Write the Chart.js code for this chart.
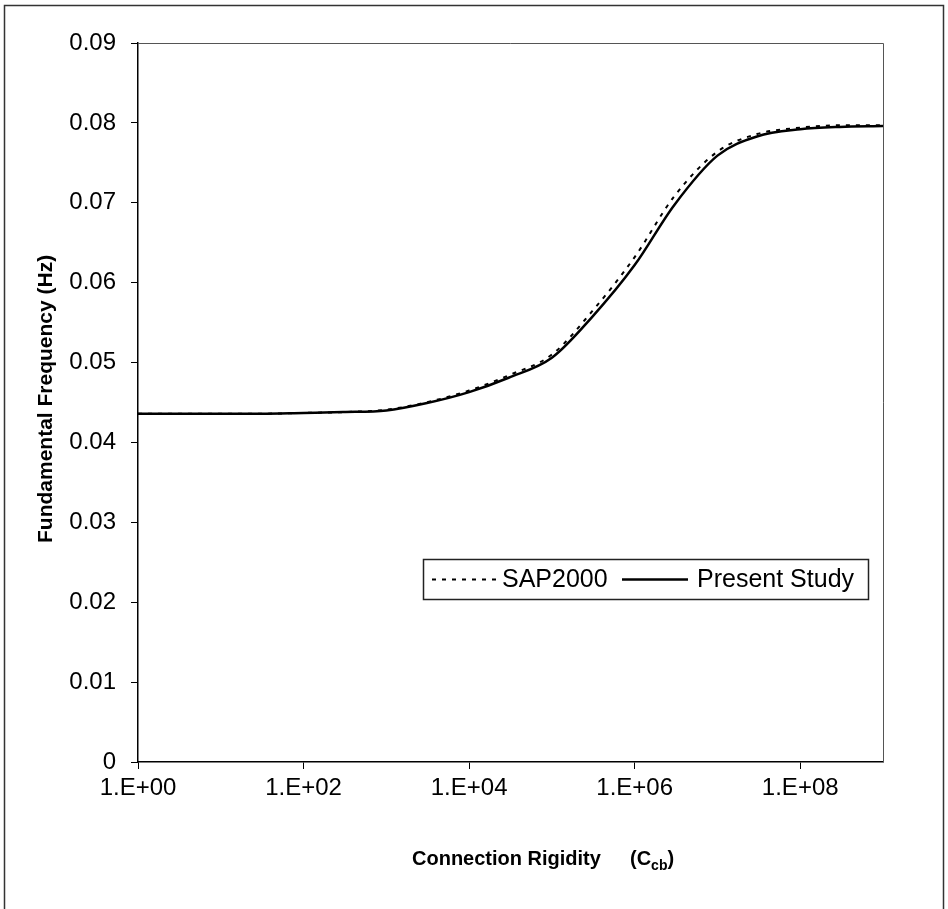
<!DOCTYPE html>
<html>
<head>
<meta charset="utf-8">
<script src="https://cdn.jsdelivr.net/npm/chart.js@4.4.1/dist/chart.umd.min.js"></script>
<style>
  html, body { margin: 0; padding: 0; background: #fff; }
  canvas { display: block; }
</style>
</head>
<body>
<canvas id="freqChart" width="948" height="909"></canvas>
<script>
// --- Data ---
const rigidity = [1, 3, 10, 30, 100, 300, 1e3, 3e3, 1e4, 3e4, 1e5, 3e5, 1e6, 3e6, 1e7, 3e7, 1e8, 3e8, 1e9];
const sap2000 = [0.0436, 0.0436, 0.0436, 0.0436, 0.0437, 0.0438, 0.0441, 0.0450, 0.0465, 0.0484, 0.0510, 0.0563, 0.0632, 0.0708, 0.0764, 0.0786, 0.0794, 0.0797, 0.0797];
const presentStudy = [0.0436, 0.0436, 0.0436, 0.0436, 0.0437, 0.0438, 0.0440, 0.0449, 0.0463, 0.0481, 0.0506, 0.0556, 0.0622, 0.0697, 0.0759, 0.0783, 0.0792, 0.0795, 0.0796];
const xTicks = [1, 1e2, 1e4, 1e6, 1e8];
const xTickLabels = ["1.E+00", "1.E+02", "1.E+04", "1.E+06", "1.E+08"];
const seriesNames = ["SAP2000", "Present Study"];

const FONT = "'Liberation Sans', Arial, sans-serif";

const toPoints = (xs, ys) => xs.map((x, i) => ({ x, y: ys[i] }));

// cadre, titres d'axes et légende dans le graphique
const decorations = {
  id: "decorations",
  beforeDraw(chart) {
    const ctx = chart.ctx;
    ctx.save();
    ctx.fillStyle = "#fff";
    ctx.fillRect(0, 0, chart.width, chart.height);
    ctx.restore();
  },
  afterDraw(chart) {
    const { ctx, chartArea: a } = chart;
    ctx.save();

    // outer frame
    ctx.strokeStyle = "#333";
    ctx.lineWidth = 1.5;
    ctx.strokeRect(4.5, 5.5, 939, 930);

    // plot area border (top / right)
    ctx.strokeStyle = "#555";
    ctx.lineWidth = 1;
    ctx.beginPath();
    ctx.moveTo(a.left, a.top + 0.5);
    ctx.lineTo(a.right + 0.5, a.top + 0.5);
    ctx.lineTo(a.right + 0.5, a.bottom);
    ctx.stroke();

    // y title
    ctx.fillStyle = "#000";
    ctx.font = `bold 21px ${FONT}`;
    ctx.save();
    ctx.translate(52, 543);
    ctx.rotate(-Math.PI / 2);
    ctx.textAlign = "left";
    ctx.textBaseline = "alphabetic";
    ctx.fillText("Fundamental Frequency (Hz)", 0, 0);
    ctx.restore();

    // x title with subscript
    ctx.textBaseline = "alphabetic";
    ctx.textAlign = "left";
    ctx.font = `bold 20px ${FONT}`;
    ctx.fillText("Connection Rigidity", 412, 865);
    let x = 630;
    ctx.fillText("(C", x, 865);
    x += ctx.measureText("(C").width;
    ctx.font = `bold 14px ${FONT}`;
    ctx.fillText("cb", x, 870);
    x += ctx.measureText("cb").width;
    ctx.font = `bold 20px ${FONT}`;
    ctx.fillText(")", x, 865);

    // legend
    const box = { x: 423.5, y: 559.5, w: 445, h: 40 };
    ctx.fillStyle = "#fff";
    ctx.fillRect(box.x, box.y, box.w, box.h);
    ctx.strokeStyle = "#222";
    ctx.lineWidth = 1.5;
    ctx.strokeRect(box.x, box.y, box.w, box.h);

    const midY = box.y + box.h / 2;
    const samples = [[432, 497, 502], [622, 688, 697]];
    chart.data.datasets.forEach((ds, i) => {
      const [x0, x1, tx] = samples[i];
      ctx.strokeStyle = ds.borderColor;
      ctx.lineWidth = ds.borderWidth;
      ctx.setLineDash(ds.borderDash || []);
      ctx.beginPath();
      ctx.moveTo(x0, midY);
      ctx.lineTo(x1, midY);
      ctx.stroke();
      ctx.setLineDash([]);
      ctx.fillStyle = "#000";
      ctx.font = `25px ${FONT}`;
      ctx.textBaseline = "middle";
      ctx.fillText(ds.label, tx, midY + 1);
    });

    ctx.restore();
  }
};

new Chart(document.getElementById("freqChart"), {
  type: "line",
  data: {
    datasets: [
      {
        label: seriesNames[0],
        data: toPoints(rigidity, sap2000),
        borderColor: "#000",
        borderWidth: 2,
        borderDash: [4, 6],
        pointRadius: 0,
        cubicInterpolationMode: "monotone",
        fill: false
      },
      {
        label: seriesNames[1],
        data: toPoints(rigidity, presentStudy),
        borderColor: "#000",
        borderWidth: 2.5,
        pointRadius: 0,
        cubicInterpolationMode: "monotone",
        fill: false
      }
    ]
  },
  options: {
    responsive: false,
    animation: false,
    layout: { padding: { top: 43, right: 65, left: 0, bottom: 0 } },
    plugins: {
      legend: { display: false },
      tooltip: { enabled: false }
    },
    scales: {
      x: {
        type: "logarithmic",
        min: 1,
        max: 1e9,
        afterBuildTicks: (scale) => {
          scale.ticks = xTicks.map(v => ({ value: v }));
        },
        afterFit: (scale) => { scale.height = 147; },
        ticks: {
          autoSkip: false,
          maxRotation: 0,
          padding: 5,
          color: "#000",
          font: { family: FONT, size: 24 },
          callback: (v) => xTickLabels[xTicks.indexOf(v)] ?? ""
        },
        grid: { drawOnChartArea: false, drawTicks: true, tickLength: 7, color: "#000" },
        border: { display: true, color: "#000", width: 1.5 }
      },
      y: {
        min: 0,
        max: 0.09,
        afterFit: (scale) => { scale.width = 138; },
        ticks: {
          stepSize: 0.01,
          padding: 15,
          color: "#000",
          font: { family: FONT, size: 24 },
          callback: (v) => (Math.abs(v) < 1e-9 ? "0" : v.toFixed(2))
        },
        grid: { drawOnChartArea: false, drawTicks: true, tickLength: 7, color: "#000" },
        border: { display: true, color: "#000", width: 1.5 }
      }
    }
  },
  plugins: [decorations]
});
</script>
</body>
</html>
